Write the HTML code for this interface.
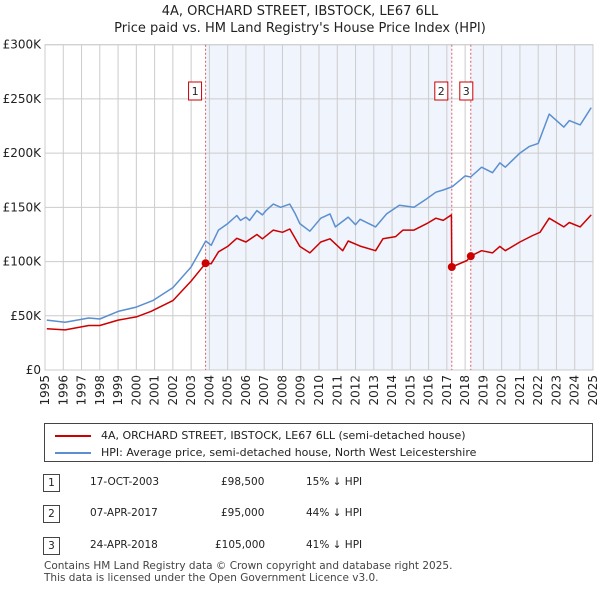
<!DOCTYPE html>
<html><head><meta charset="utf-8">
<style>
body{margin:0;background:#fff;font-family:"DejaVu Sans","Liberation Sans",sans-serif;}
#wrap{position:relative;width:600px;height:590px;overflow:hidden;}
svg text{font-family:"DejaVu Sans","Liberation Sans",sans-serif;}
span{white-space:nowrap;}
</style></head><body>
<div id="wrap">
<svg id="chart" width="600" height="590"></svg>
</div>
<script>
const hpiYears=[1995.1,1996.1,1997.4,1998.0,1999.0,2000.0,2000.9,2002.0,2003.0,2003.5,2003.8,2004.1,2004.5,2005.0,2005.5,2005.7,2006.0,2006.2,2006.6,2006.9,2007.1,2007.5,2007.9,2008.4,2008.7,2008.95,2009.5,2010.1,2010.6,2010.9,2011.6,2012.0,2012.25,2013.1,2013.7,2014.4,2015.2,2015.9,2016.4,2016.8,2017.3,2018.0,2018.3,2018.9,2019.5,2019.9,2020.2,2021.0,2021.5,2022.0,2022.6,2023.4,2023.7,2024.3,2024.6,2024.9];
const hpiValues=[46,44,48,47,54,58,64,76,95,110,119,115,129,135,142.5,138,141,138,147,143,147,153,150,153,144,135,128,140,144,132,141,134,139,132,144,152,150,158,164,166,169,179,178,187,182,191,187,200,206,209,236,224,230,226,234,242];
const priceYears=[1995.1,1996.1,1997.4,1998.0,1999.0,2000.0,2000.8,2002.0,2003.0,2003.8,2004.1,2004.5,2005.0,2005.5,2006.0,2006.6,2006.9,2007.5,2008.0,2008.4,2008.95,2009.5,2010.1,2010.6,2011.3,2011.6,2012.3,2013.1,2013.5,2014.2,2014.6,2015.2,2015.9,2016.4,2016.8,2017.25,2017.27,2018.1,2018.3,2018.9,2019.5,2019.9,2020.2,2021.0,2021.7,2022.1,2022.6,2023.4,2023.7,2024.3,2024.9];
const priceValues=[38,37,41,41,46,49,54,64,82,98.5,98,109,114,121.5,118,125,121,129,127,130,114,108,118,121,110,119,114,110,121,123,129,129,135,140,138,143,95,101,105,110,108,114,110,118,124,127,140,132,136,132,143];
const saleYears=[2003.79,2017.27,2018.31];
const saleValues=[98.5,95,105];
const saleLabels=["1","2","3"];
const yTicks=[0,50,100,150,200,250,300];
const yTickLabels=["£0","£50K","£100K","£150K","£200K","£250K","£300K"];
const xTicks=[1995,1996,1997,1998,1999,2000,2001,2002,2003,2004,2005,2006,2007,2008,2009,2010,2011,2012,2013,2014,2015,2016,2017,2018,2019,2020,2021,2022,2023,2024,2025];

const L=45,R=593,T=44.7,B=370;
const xs=y=>L+(y-1995)/30*(R-L);
const ys=v=>B-v/300*(B-T);
const NS="http://www.w3.org/2000/svg";
const svg=document.getElementById('chart');
function mk(tag,attrs,parent){const e=document.createElementNS(NS,tag);for(const k in attrs)e.setAttribute(k,attrs[k]);(parent||svg).appendChild(e);return e;}

let s1=mk('rect',{x:xs(saleYears[0]),y:T,width:xs(saleYears[1])-xs(saleYears[0]),height:B-T,fill:'#f0f4fc'});


let s2=mk('rect',{x:xs(saleYears[2]),y:T,width:R-xs(saleYears[2]),height:B-T,fill:'#f0f4fc'});



yTicks.forEach((v,i)=>{
 const g=mk('line',{x1:L,x2:R,y1:ys(v),y2:ys(v),stroke:'#cccccc','stroke-width':1});
 
 
 const t=mk('text',{x:L-4,y:ys(v)+4,'text-anchor':'end','font-size':12,fill:'#222'});
 t.textContent=yTickLabels[i];
 
 
});
xTicks.forEach(y=>{
 const g=mk('line',{x1:xs(y),x2:xs(y),y1:T,y2:B,stroke:'#cccccc','stroke-width':1});
 
 
 const t=mk('text',{x:0,y:0,'text-anchor':'end','font-size':12,fill:'#222',transform:`translate(${xs(y)+4},375) rotate(-90)`});
 t.textContent=y;
 
 
});
const ax=mk('rect',{x:L,y:T,width:R-L,height:B-T,fill:'none',stroke:'#cccccc'});



saleYears.forEach((y,i)=>{
 const l=mk('line',{x1:xs(y),x2:xs(y),y1:T,y2:B,stroke:'#e06060','stroke-width':1,'stroke-dasharray':'2,2'});
 
 
});

function path(xa,va,color,name){
 const d=xa.map((x,i)=>(i?'L':'M')+xs(x).toFixed(1)+','+ys(va[i]).toFixed(1)).join(' ');
 const p=mk('path',{d:d,fill:'none',stroke:color,'stroke-width':1.5,'stroke-linejoin':'round'});
 
 
}
path(hpiYears,hpiValues,'#5b8fd0','hpi-line');
path(priceYears,priceValues,'#cc0000','price-paid-line');

saleYears.forEach((y,i)=>{
 const c=mk('circle',{cx:xs(y),cy:ys(saleValues[i]),r:4,fill:'#cc0000'});
 
 
 const off=i==2?3:-3;
 const bx=xs(y)+off-14;
 const g=mk('g',{});
 
 
 mk('rect',{x:bx,y:82,width:13,height:18,fill:'#fff',stroke:'#cc0000'},g);
 const t=mk('text',{x:bx+6.5,y:95,'text-anchor':'middle','font-size':11,fill:'#222'},g);
 t.textContent=saleLabels[i];
});
</script>
<div style="position:absolute;top:3px;left:0;width:600px;text-align:center;font-size:13px;line-height:17px;color:#222;">4A, ORCHARD STREET, IBSTOCK, LE67 6LL<br>Price paid vs. HM Land Registry's House Price Index (HPI)</div>
<div style="position:absolute;left:44px;top:423px;width:549px;height:39px;border:1px solid #444;box-sizing:border-box;font-size:11px;color:#222;">
 <div style="position:absolute;left:10px;top:5px;white-space:nowrap;"><span style="display:inline-block;width:36px;height:2px;background:#cc0000;vertical-align:middle;margin-right:10px;"></span>4A, ORCHARD STREET, IBSTOCK, LE67 6LL (semi-detached house)</div>
 <div style="position:absolute;left:10px;top:22px;white-space:nowrap;"><span style="display:inline-block;width:36px;height:2px;background:#5b8fd0;vertical-align:middle;margin-right:10px;"></span>HPI: Average price, semi-detached house, North West Leicestershire</div>
</div>
<div style="position:absolute;left:0;top:0;font-size:10.5px;color:#222;">
 <div>
  <span style="position:absolute;left:43px;top:474px;width:15px;height:16px;border:1px solid #444;text-align:center;line-height:16px;">1</span>
  <span style="position:absolute;left:90px;top:476px;">17-OCT-2003</span>
  <span style="position:absolute;left:221px;top:476px;">£98,500</span>
  <span style="position:absolute;left:306px;top:476px;">15% ↓ HPI</span></div>
 <div>
  <span style="position:absolute;left:43px;top:505px;width:15px;height:16px;border:1px solid #444;text-align:center;line-height:16px;">2</span>
  <span style="position:absolute;left:90px;top:507px;">07-APR-2017</span>
  <span style="position:absolute;left:221px;top:507px;">£95,000</span>
  <span style="position:absolute;left:306px;top:507px;">44% ↓ HPI</span></div>
 <div>
  <span style="position:absolute;left:43px;top:537px;width:15px;height:16px;border:1px solid #444;text-align:center;line-height:16px;">3</span>
  <span style="position:absolute;left:90px;top:539px;">24-APR-2018</span>
  <span style="position:absolute;left:215px;top:539px;">£105,000</span>
  <span style="position:absolute;left:306px;top:539px;">41% ↓ HPI</span></div>
</div>
<div style="position:absolute;left:44px;top:560px;font-size:10.5px;line-height:12px;color:#444;white-space:nowrap;">Contains HM Land Registry data © Crown copyright and database right 2025.<br>This data is licensed under the Open Government Licence v3.0.</div>
</body></html>
